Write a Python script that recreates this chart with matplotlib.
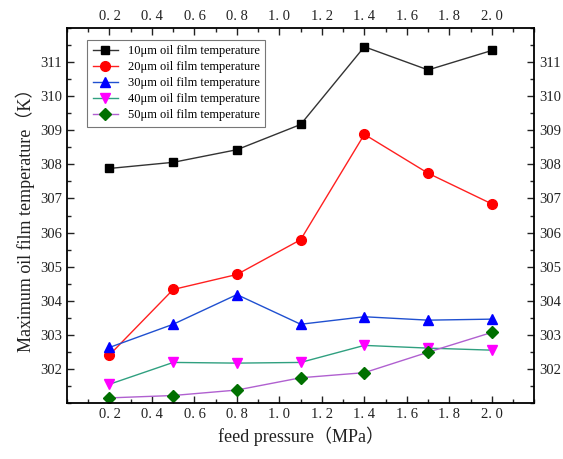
import matplotlib
matplotlib.use('Agg')
import matplotlib.pyplot as plt
from matplotlib.ticker import MultipleLocator

plt.rcParams['font.family'] = ['Liberation Serif', 'Noto Sans CJK SC']

# feed pressure (MPa)
pressure = [0.2, 0.5, 0.8, 1.1, 1.4, 1.7, 2.0]

# maximum oil film temperature (K) for each film thickness
t10 = [307.88, 308.06, 308.43, 309.17, 311.45, 310.77, 311.34]
t20 = [302.41, 304.33, 304.77, 305.79, 308.88, 307.74, 306.84]
t30 = [302.63, 303.31, 304.18, 303.31, 303.53, 303.43, 303.46]
t40 = [301.55, 302.19, 302.17, 302.19, 302.69, 302.61, 302.55]
t50 = [301.15, 301.22, 301.38, 301.74, 301.89, 302.49, 303.07]

labels = ['10μm oil film temperature', '20μm oil film temperature',
          '30μm oil film temperature', '40μm oil film temperature',
          '50μm oil film temperature']
xtick_labels = ['0. 2', '0. 4', '0. 6', '0. 8', '1. 0', '1. 2', '1. 4', '1. 6', '1. 8', '2. 0']

fig = plt.figure(figsize=(5.63, 4.59), dpi=100)
ax = fig.add_axes([0.119, 0.122, 0.830, 0.817])

ms = 7
ax.plot(pressure, t10, '-s', color='#333333', mfc='black', mec='black', ms=ms-1, lw=1, label=labels[0])
ax.plot(pressure, t20, '-o', color='#ff2020', mfc='red', mec='red', ms=ms, lw=1, label=labels[1])
ax.plot(pressure, t30, '-^', color='#2050d0', mfc='blue', mec='blue', ms=ms, lw=1, label=labels[2])
ax.plot(pressure, t40, '-v', color='#30a080', mfc='magenta', mec='magenta', ms=ms, lw=1, label=labels[3])
ax.plot(pressure, t50, '-D', color='#b060d0', mfc='#007000', mec='#007000', ms=ms-1, lw=1, label=labels[4])

ax.set_xlim(0.0, 2.2)
ax.set_ylim(301, 312)
ax.xaxis.set_minor_locator(MultipleLocator(0.1))
ax.yaxis.set_minor_locator(MultipleLocator(0.5))
ax.set_xticks([0.2, 0.4, 0.6, 0.8, 1.0, 1.2, 1.4, 1.6, 1.8, 2.0])
ax.set_xticklabels(xtick_labels)
ax.set_yticks(range(302, 312))

ax.tick_params(which='both', direction='in', top=True, right=True,
               labeltop=True, labelright=True, labelsize=10.5, width=1,
               colors='#222222')
ax.tick_params(which='major', length=5)
ax.tick_params(which='minor', length=3)
for s in ax.spines.values():
    s.set_linewidth(1.3)

ax.set_xlabel('feed pressure（MPa）', fontsize=13, color='#222222')
ax.set_ylabel('Maximum oil film temperature（K）', fontsize=13, color='#222222')

leg = ax.legend(loc='upper left', bbox_to_anchor=(0.03, 0.985), fontsize=9,
                frameon=True, fancybox=False, edgecolor='#555555',
                handlelength=2.0, borderpad=0.45, labelspacing=0.32)
leg.get_frame().set_linewidth(0.8)

fig.savefig('out.png', dpi=100)
